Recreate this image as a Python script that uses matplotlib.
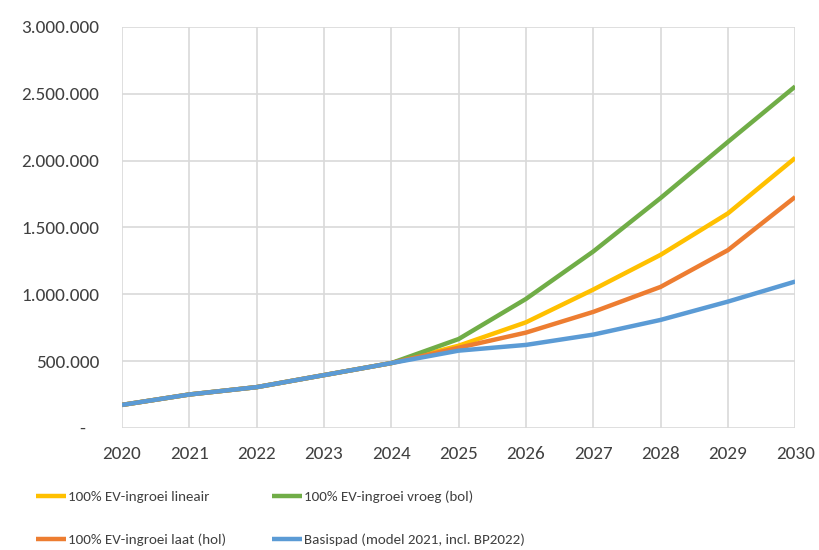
import matplotlib
matplotlib.use("Agg")
import matplotlib.pyplot as plt
import matplotlib.ticker as ticker

# jaren en scenario's (aantal EV's)
years = [2020, 2021, 2022, 2023, 2024, 2025, 2026, 2027, 2028, 2029, 2030]
lineair = [172000, 250000, 305000, 395000, 485000, 615000, 790000, 1035000, 1295000, 1605000, 2020000]
vroeg = [172000, 250000, 305000, 395000, 485000, 665000, 965000, 1320000, 1720000, 2140000, 2555000]
laat = [172000, 250000, 305000, 395000, 485000, 600000, 713000, 868000, 1055000, 1330000, 1728000]
basispad = [172000, 250000, 305000, 395000, 485000, 578000, 621000, 698000, 808000, 945000, 1095000]

labels = ['100% EV-ingroei lineair', '100% EV-ingroei vroeg (bol)',
          '100% EV-ingroei laat (hol)', 'Basispad (model 2021, incl. BP2022)']
colors = ['#FFC000', '#70AD47', '#ED7D31', '#5B9BD5']

# Carlito = Calibri-maten (Excel)
plt.rcParams['font.family'] = ['Carlito', 'Open Sans', 'DejaVu Sans']

fig = plt.figure(figsize=(8.19, 5.5), dpi=100)
ax = fig.add_axes([0.149, 0.222, 0.822, 0.729])

l1, = ax.plot(years, lineair, color=colors[0], lw=3.2, solid_capstyle='butt')
l2, = ax.plot(years, vroeg, color=colors[1], lw=3.2, solid_capstyle='butt')
l3, = ax.plot(years, laat, color=colors[2], lw=3.2, solid_capstyle='butt')
l4, = ax.plot(years, basispad, color=colors[3], lw=3.2, solid_capstyle='butt')

ax.set_xlim(2020, 2030)
ax.set_ylim(0, 3000000)
ax.set_xticks(years)
ax.set_yticks(range(0, 3000001, 500000))

# Excel-stijl: punt als duizendtalscheiding, 0 als streepje
def fmt(v, pos):
    if v == 0:
        return '-   '
    return f'{int(v):,}'.replace(',', '.')

ax.yaxis.set_major_formatter(ticker.FuncFormatter(fmt))
ax.grid(True, color='#D9D9D9', lw=1.2)
ax.set_axisbelow(True)
for s in ax.spines.values():
    s.set_visible(False)
ax.tick_params(length=0, labelsize=13.8, colors='#404040')
ax.tick_params(axis='x', pad=13)
ax.tick_params(axis='y', pad=16.5)

# legenda onder de grafiek, rij-voor-rij
fig.legend([l1, l3, l2, l4], [labels[0], labels[2], labels[1], labels[3]],
           ncol=2, loc='lower left', bbox_to_anchor=(0.035, -0.006),
           frameon=False, handlelength=2.0, handletextpad=0.15,
           columnspacing=3.0, labelspacing=2.0, borderpad=0, labelcolor='#404040',
           prop={'family': ['Carlito', 'Open Sans'], 'size': 10.8})

fig.savefig('out.png', dpi=100)
